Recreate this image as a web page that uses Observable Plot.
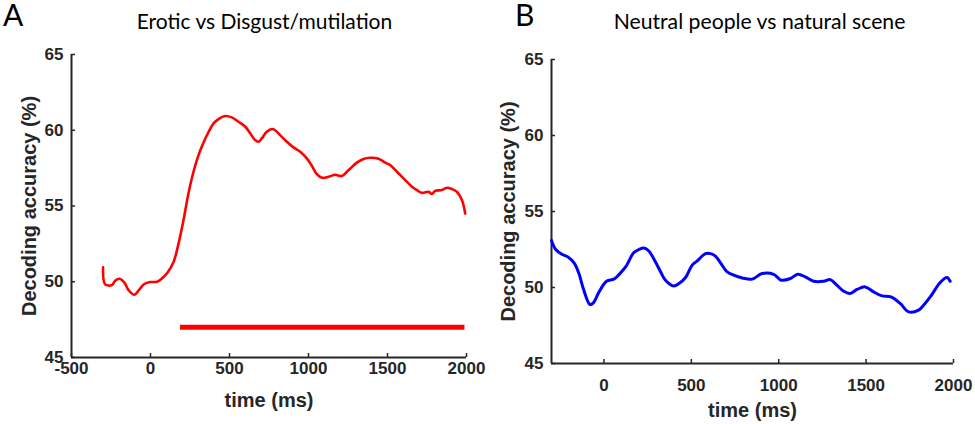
<!DOCTYPE html>
<html><head><meta charset="utf-8">
<script src="https://cdn.jsdelivr.net/npm/d3@7"></script>
<script src="https://cdn.jsdelivr.net/npm/@observablehq/plot@0.6"></script>
<style>
html,body{margin:0;padding:0;background:#fff;}
#wrap{position:relative;width:975px;height:424px;overflow:hidden;background:#fff;}
.panel{position:absolute;top:0;}
#titles{position:absolute;left:0;top:0;pointer-events:none;overflow:visible;}
</style></head><body>
<div id="wrap">
  <div id="pa" class="panel" style="left:0px"></div>
  <div id="pb" class="panel" style="left:487px"></div>
  <svg id="titles" width="975" height="60"></svg>
</div>
<script>
// ---- data ----
const panelLetters = ["A", "B"];
const panelTitles = ["Erotic vs Disgust/mutilation", "Neutral people vs natural scene"];
const yLabel = "Decoding accuracy (%)";
const xLabel = "time (ms)";
const yTicks = [45, 50, 55, 60, 65];
const xTicksA = [-500, 0, 500, 1000, 1500, 2000];
const xTicksB = [0, 500, 1000, 1500, 2000];

const timeA = [-300,-287,-244,-224,-196,-164,-139,-103,-70,-39,-2,41,72,107,146,177,209,240,272,304,335,368,399,430,473,514,557,600,631,662,684,705,736,769,789,820,863,905,948,989,1022,1053,1085,1127,1169,1211,1254,1306,1348,1390,1443,1486,1517,1560,1612,1655,1686,1718,1760,1781,1802,1844,1876,1908,1939,1971,1992];
const accA = [50.95,49.83,49.78,50.07,50.2,49.93,49.45,49.14,49.5,49.85,49.98,50.0,50.22,50.6,51.3,52.5,54.07,55.83,57.26,58.36,59.17,59.9,60.45,60.74,60.94,60.85,60.56,60.23,59.8,59.35,59.24,59.47,59.9,60.08,60.0,59.68,59.24,58.87,58.58,58.14,57.64,57.1,56.86,56.93,57.06,56.98,57.37,57.86,58.1,58.18,58.12,57.86,57.7,57.26,56.71,56.27,56.05,55.87,55.94,55.79,56.0,56.05,56.2,56.12,55.94,55.39,54.5];
const sigStartA = [190];
const sigEndA = [1990];
const sigLevelA = [47];

const timeB = [-300,-276,-238,-206,-171,-143,-120,-80,-61,-28,15,57,86,124,171,200,229,257,295,324,352,400,429,467,505,534,581,610,638,667,705,743,791,848,905,971,1014,1067,1109,1152,1200,1257,1295,1333,1371,1406,1448,1495,1543,1591,1642,1695,1743,1800,1829,1867,1924,1962,1981];
const accB = [53.1,52.5,52.17,52.01,51.62,50.92,50.0,48.88,48.99,49.71,50.41,50.55,50.85,51.35,52.3,52.5,52.6,52.4,51.68,51.03,50.48,50.1,50.26,50.66,51.47,51.75,52.23,52.23,52.06,51.62,51.03,50.81,50.63,50.55,50.92,50.87,50.48,50.59,50.87,50.7,50.41,50.41,50.52,50.15,49.76,49.6,49.87,50.04,49.71,49.45,49.38,48.95,48.4,48.51,48.84,49.38,50.33,50.66,50.41];

// ---- build tables ----
const dataA = timeA.map((t, i) => ({t, v: accA[i]}));
const dataB = timeB.map((t, i) => ({t, v: accB[i]}));
const sigA = sigStartA.map((s, i) => ({x1: s, x2: sigEndA[i], y: sigLevelA[i]}));

const AXIS = "#262626";
const FONT = "'Liberation Sans', Arial, Helvetica, sans-serif";
const fmt = d => String(d);
const blank = () => "";

function panel({width, mt, mb, ml, mr, xDomain, xTicks, data, color, lw, extra, padX, labOffX, labOffY}) {
  return Plot.plot({
    width, height: 424,
    marginTop: mt, marginBottom: mb, marginLeft: ml, marginRight: mr,
    style: {fontFamily: FONT, color: AXIS, background: "transparent", overflow: "visible"},
    x: {domain: xDomain},
    y: {domain: [45, 65]},
    marks: [
      Plot.ruleY([45], {stroke: AXIS, strokeWidth: 2}),
      Plot.ruleX([xDomain[0]], {stroke: AXIS, strokeWidth: 2}),
      Plot.axisX({ticks: xTicks, tickSize: -4, tickFormat: blank, label: null, strokeWidth: 1.5}),
      Plot.axisY({ticks: yTicks, tickSize: -4, tickFormat: blank, label: null, strokeWidth: 1.5}),
      Plot.axisX({ticks: xTicks, tickSize: 0, tickPadding: padX, tickFormat: fmt, fontSize: 17, fontWeight: "bold", label: null}),
      Plot.axisY({ticks: yTicks, tickSize: 0, tickPadding: 8, tickFormat: fmt, fontSize: 17, fontWeight: "bold", label: null}),
      Plot.axisX({ticks: xTicks, tickSize: 0, tickFormat: blank, fontSize: 20, fontWeight: "bold", label: xLabel, labelAnchor: "center", labelArrow: "none", labelOffset: labOffX}),
      Plot.axisY({ticks: yTicks, tickSize: 0, tickFormat: blank, fontSize: 20, fontWeight: "bold", label: yLabel, labelAnchor: "center", labelArrow: "none", labelOffset: labOffY}),
      Plot.line(data, {x: "t", y: "v", stroke: color, strokeWidth: lw, curve: "catmull-rom"}),
      ...(extra || [])
    ]
  });
}

document.getElementById("pa").append(panel({
  width: 487, mt: 54, mb: 67, ml: 71, mr: 21,
  xDomain: [-500, 2000], xTicks: xTicksA, data: dataA, color: "#ff0000", lw: 2.6,
  padX: 4, labOffX: 49, labOffY: 50,
  extra: [Plot.ruleY(sigA, {x1: "x1", x2: "x2", y: "y", stroke: "#ff0000", strokeWidth: 5})]
}));

document.getElementById("pb").append(panel({
  width: 488, mt: 59, mb: 61, ml: 64, mr: 22,
  xDomain: [-300, 2000], xTicks: xTicksB, data: dataB, color: "#0000ff", lw: 3,
  padX: 15, labOffX: 53, labOffY: 51
}));

// titles
const ts = d3.select("#titles");
const letterX = [3, 515], titleX = [264.5, 759.5], titleSize = [21, 21.2];
panelLetters.forEach((L, i) => {
  ts.append("text").attr("x", letterX[i]).attr("y", 25.5).attr("font-family", "Lato, 'Open Sans', sans-serif")
    .attr("font-size", 30).attr("fill", "#000").text(L);
  ts.append("text").attr("x", titleX[i]).attr("y", 28.5).attr("text-anchor", "middle")
    .attr("font-family", "Lato, 'Open Sans', sans-serif").attr("font-size", titleSize[i]).attr("fill", "#000").text(panelTitles[i]);
});
</script>
</body></html>
